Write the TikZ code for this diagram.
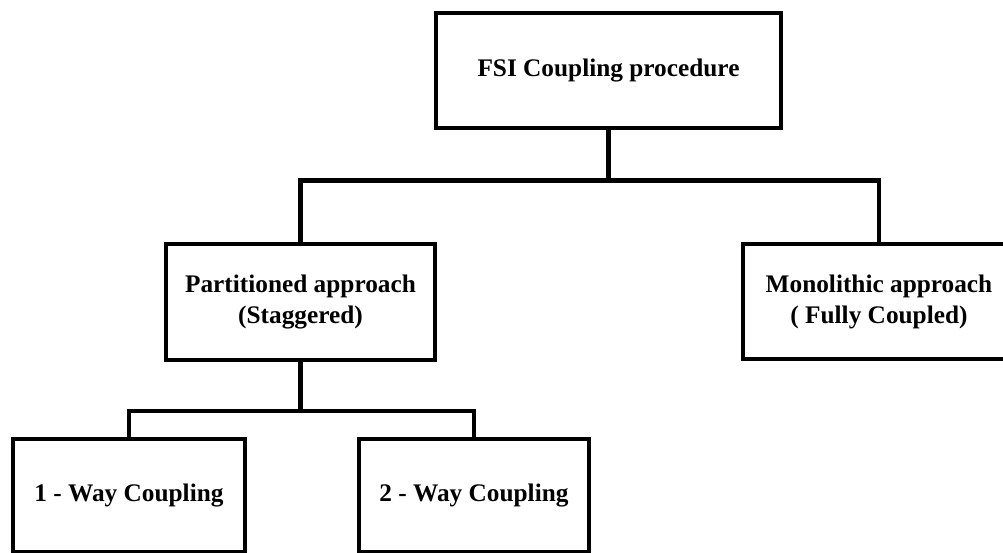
\documentclass[tikz,border=0pt]{standalone}
\usepackage{fontspec}
\setmainfont{Liberation Serif}
\begin{document}
\begin{tikzpicture}[x=1pt,y=1pt,
  box/.style={draw=black, line width=4.5pt, fill=white, inner sep=0pt, align=center,
    font=\fontsize{25.3}{31}\selectfont\bfseries},
  conn/.style={draw=black, line width=4.5pt}]
\useasboundingbox (0,0) rectangle (1003,-553);
\clip (0,0) rectangle (1003,-553);
\fill[white] (0,0) rectangle (1003,-553);
\node[box, minimum width=345pt, minimum height=115pt] (top) at (608.5,-70.5) {FSI Coupling procedure};
\node[box, minimum width=269pt, minimum height=116pt] (part) at (300.5,-302) {Partitioned approach\\(Staggered)};
\node[box, minimum width=272pt, minimum height=115pt] (mono) at (879,-301.5) {Monolithic approach\\( Fully Coupled)};
\node[box, minimum width=232pt, minimum height=113pt] (one) at (129,-495.5) {1 - Way Coupling};
\node[box, minimum width=230pt, minimum height=113pt] (two) at (474,-495.5) {2 - Way Coupling};
\coordinate (j1) at (608.5,-180.5);
\coordinate (j2) at (300.5,-411);
\draw[conn] (top.south) -- (j1);
\draw[conn] (part.north) |- (j1) -| (mono.north);
\draw[conn] (part.south) -- (j2);
\draw[conn] (one.north) |- (j2) -| (two.north);
\end{tikzpicture}
\end{document}
